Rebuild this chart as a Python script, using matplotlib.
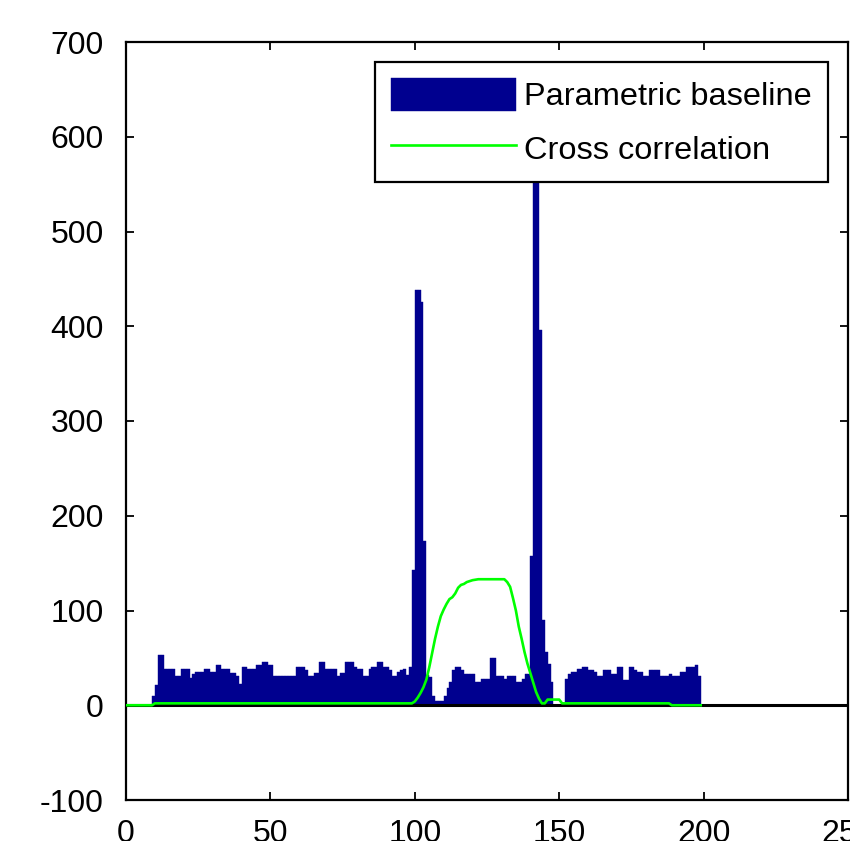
import matplotlib.pyplot as plt
import numpy as np

plt.rcParams['font.family'] = ['Liberation Sans', 'DejaVu Sans']
plt.rcParams['axes.unicode_minus'] = False

# histogram of the parametric baseline, bins of width 1 starting at 9
bin_left = np.arange(9, 199)
counts = [
    10, 21, 53, 53, 38, 38, 38, 38, 31, 31,            # 9-18
    38, 38, 38, 29, 33, 35, 35, 35, 38, 38,            # 19-28
    35, 35, 43, 43, 38, 38, 38, 34, 34, 31,            # 29-38
    22, 40, 40, 38, 38, 38, 43, 43, 46, 46,            # 39-48
    43, 43, 31, 31, 31, 31, 31, 31, 31, 31,            # 49-58
    40, 40, 40, 37, 31, 31, 34, 34, 46, 46,            # 59-68
    38, 38, 38, 38, 31, 34, 34, 46, 46, 46,            # 69-78
    40, 38, 38, 31, 31, 38, 40, 40, 46, 46,            # 79-88
    40, 40, 37, 31, 31, 35, 37, 38, 32, 40,            # 89-98
    143, 438, 438, 426, 173, 32, 30, 10, 4, 4,         # 99-108
    4, 10, 18, 25, 37, 40, 40, 37, 33, 33,             # 109-118
    33, 33, 25, 25, 28, 28, 28, 50, 50, 31,            # 119-128
    31, 31, 28, 31, 31, 31, 25, 25, 28, 33,            # 129-138
    33, 157, 551, 551, 396, 90, 56, 44, 25, 0,         # 139-148
    0, 0, 0, 28, 33, 35, 35, 38, 38, 40,               # 149-158
    40, 37, 37, 35, 31, 31, 37, 37, 37, 33,            # 159-168
    33, 40, 40, 27, 27, 40, 40, 37, 35, 35,            # 169-178
    31, 31, 37, 37, 37, 37, 31, 31, 31, 33,            # 179-188
    31, 31, 31, 35, 35, 40, 40, 40, 43, 31,            # 189-198
]

# cross correlation curve
cc_x = [0, 9, 10, 99, 100, 101, 102, 103, 104, 105, 106, 107, 108, 109, 110,
        111, 112, 113, 114, 115, 116, 117, 118, 120, 122, 131, 132, 133, 134,
        135, 136, 137, 138, 139, 140, 141, 142, 143, 144, 145, 146, 150, 151,
        188, 189, 199]
cc_y = [0, 0, 2, 2, 4, 8, 13, 19, 27, 40, 55, 70, 83, 94, 101,
        107, 112, 114, 118, 124, 127, 128, 130, 132, 133, 133, 130, 125, 113,
        100, 83, 70, 56, 44, 34, 24, 14, 7, 2, 2, 6, 6, 2,
        2, 0, 0]

navy = '#00008F'

fig = plt.figure(figsize=(8.5, 8.41), dpi=100)
ax = fig.add_axes([126/850, 41/841, 722/850, 758/841])

bars = ax.bar(bin_left, counts, width=1, align='edge', color=navy, edgecolor=navy,
              linewidth=0.3, label='Parametric baseline')
ax.axhline(0, color='k', lw=2.2, zorder=2)
line, = ax.plot(cc_x, cc_y, color='#00FF00', lw=1.9, zorder=3, label='Cross correlation')

ax.set_xlim(0, 250)
ax.set_ylim(-100, 700)
ax.set_xticks([0, 50, 100, 150, 200, 250])
ax.set_yticks(np.arange(-100, 701, 100))
ax.tick_params(direction='in', length=6, width=1.3, top=True, right=True,
               labelsize=23)
ax.tick_params(axis='y', pad=16)
ax.tick_params(axis='x', pad=14)
for s in ax.spines.values():
    s.set_linewidth(1.6)

leg = ax.legend([bars, line], ['Parametric baseline', 'Cross correlation'],
                loc='upper right', bbox_to_anchor=(828/850, 1 - 62/841),
                bbox_transform=fig.transFigure, borderaxespad=0,
                fancybox=False, framealpha=1, edgecolor='k',
                prop={'family': 'Liberation Sans', 'size': 23.4},
                handlelength=3.85, handleheight=1.15, handletextpad=0.25,
                labelspacing=0.6, borderpad=0.5)
leg.get_frame().set_linewidth(1.6)

fig.savefig('out.png', dpi=100)
